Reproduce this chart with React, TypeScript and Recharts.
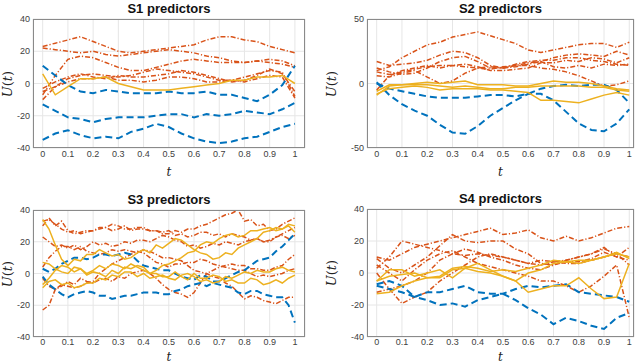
import { LineChart, Line, XAxis, YAxis, CartesianGrid } from 'recharts'

// t grids and tick values
const tGrid = [0, 0.05, 0.1, 0.15, 0.2, 0.25, 0.3, 0.35, 0.4, 0.45, 0.5, 0.55, 0.6, 0.65, 0.7, 0.75, 0.8, 0.85, 0.9, 0.95, 1]
const tFine = [0, 0.025, 0.05, 0.075, 0.1, 0.125, 0.15, 0.175, 0.2, 0.225, 0.25, 0.275, 0.3, 0.325, 0.35, 0.375, 0.4, 0.425, 0.45, 0.475, 0.5,
 0.525, 0.55, 0.575, 0.6, 0.625, 0.65, 0.675, 0.7, 0.725, 0.75, 0.775, 0.8, 0.825, 0.85, 0.875, 0.9, 0.925, 0.95, 0.975, 1]
const xTicks = [0, 0.1, 0.2, 0.3, 0.4, 0.5, 0.6, 0.7, 0.8, 0.9, 1]
const yTicks40 = [-40, -20, 0, 20, 40]
const yTicks50 = [-50, 0, 50]

// S1
const s1Blue = [
 [11, 5, -1, -5, -6, -4, -5, -6, -6, -6, -5, -6, -6, -5, -7, -7, -9, -11, -7, -1, 11],
 [-13, -17, -21, -22, -24, -22, -21, -21, -21, -20, -19, -19, -21, -19, -20, -19, -17, -18, -19, -16, -12],
 [-35, -31, -29, -32, -34, -33, -34, -30, -28, -25, -27, -31, -34, -36, -37, -36, -34, -33, -30, -27, -25],
]
const s1Orange = [
 [23, 25, 27, 29, 26, 23, 20, 19, 20, 21, 22, 23, 24, 27, 29, 29, 27, 26, 23, 21, 19],
 [22, 21, 20, 19, 20, 18, 17, 18, 19, 20, 21, 20, 19, 17, 16, 14, 13, 14, 15, 14, 11],
 [-7, 5, 15, 17, 16, 13, 10, 8, 8, 10, 12, 14, 15, 14, 13, 13, 13, 14, 13, 12, 10],
 [-10, -2, 3, 5, 6, 5, 4, 5, 7, 9, 8, 7, 6, 4, 2, 2, 4, 6, 8, 7, -8],
 [-3, 1, 4, 6, 4, 3, 5, 4, 4, 5, 6, 8, 7, 5, 3, 1, 2, 5, 9, 6, -5],
 [-5, -2, 1, 3, 3, 4, 2, 2, 1, 2, 4, 4, 3, 1, 1, 2, 1, 3, 5, 4, -9],
]
const s1Yellow = [
 [6, -7, -2, 3, 3, 4, 0, -2, -4, -4, -4, -3, -2, -1, 0, 2, 2, 4, 4, 5, 0],
]

// S2
const s2Blue = [
 [1, -9, -16, -21, -25, -32, -38, -39, -33, -25, -19, -13, -8, -8, -13, -22, -31, -36, -37, -31, -20],
 [0, -4, -6, -8, -10, -11, -11, -11, -10, -9, -9, -10, -8, -4, -2, -1, -2, -1, -1, -5, -15],
]
const s2Orange = [
 [10, 13, 20, 25, 30, 32, 36, 38, 40, 37, 34, 31, 26, 24, 26, 28, 30, 31, 31, 28, 32],
 [17, 14, 15, 16, 18, 22, 25, 24, 20, 14, 12, 13, 15, 17, 20, 22, 23, 22, 21, 25, 22],
 [12, 9, 7, 8, 12, 17, 20, 21, 17, 12, 12, 15, 17, 18, 18, 20, 20, 18, 17, 15, 14],
 [9, 7, 9, 11, 13, 14, 14, 15, 13, 10, 10, 11, 12, 16, 16, 18, 17, 20, 19, 16, 20],
 [6, 5, 8, 10, 5, 0, 2, 8, 12, 11, 13, 14, 14, 12, 11, 9, 6, 2, -2, -1, 2],
 [-5, 6, 10, 12, 14, 12, 14, 13, 12, 13, 12, 14, 16, 17, 13, 12, 14, 12, 15, 14, 15],
]
const s2Yellow = [
 [-9, -2, -1, 0, 1, 0, 1, 2, -1, -1, -1, -2, -2, 0, 2, 1, 1, 0, -2, -4, -5],
 [-8, -4, -3, -2, -3, -5, -4, -4, -4, -5, -5, -6, -7, -13, -13, -14, -15, -12, -9, -7, -9],
 [-6, -1, -1, -1, -1, -2, -3, -2, -3, -4, -4, -3, -3, -2, -2, -2, -2, -3, -3, -5, -6],
]

// S3 (read on the finer grid, these curves are jagged)
const s3Blue = [
 [3, 1, 3, 6, 8, 10, 10, 9, 10, 12, 12, 11, 12, 13, 12, 8, 5, 4, 3, 2, 2, 0, -2, -3, -4, -1, -2, -5, -5, -3, -1, 1, 2, 5, 8, 9, 10, 14, 17, 21, 25],
 [-2, -7, -10, -13, -15, -13, -12, -11, -12, -14, -14, -16, -15, -14, -14, -13, -12, -12, -12, -13, -13, -11, -10, -8, -7, -6, -8, -6, -7, -8, -9, -12, -13, -11, -11, -13, -14, -15, -15, -20, -31],
]
const s3Orange = [
 [30, 35, 30, 33, 27, 25, 26, 27, 27, 29, 29, 27, 28, 30, 27, 28, 28, 27, 27, 25, 25, 27, 26, 28, 28, 30, 31, 33, 35, 37, 38, 40, 33, 34, 30, 31, 27, 28, 31, 33, 35],
 [33, 34, 31, 28, 26, 27, 25, 26, 27, 28, 29, 31, 30, 28, 28, 29, 29, 27, 27, 26, 27, 24, 25, 23, 24, 26, 26, 24, 25, 23, 25, 24, 23, 21, 22, 20, 20, 23, 25, 27, 29],
 [23, 20, 17, 18, 16, 18, 15, 17, 20, 18, 19, 17, 18, 20, 19, 21, 21, 20, 22, 24, 23, 21, 20, 17, 18, 16, 17, 19, 18, 20, 19, 18, 20, 21, 22, 20, 21, 23, 24, 22, 24],
 [4, 10, 14, 17, 17, 15, 17, 14, 13, 12, 13, 15, 14, 15, 14, 13, 15, 14, 12, 10, 10, 9, 8, 5, 2, 1, 0, -2, -3, -6, -8, -12, -16, -14, -15, -17, -18, -19, -17, -15, -15],
 [-23, -20, -10, -8, -5, -7, -3, -5, -6, -4, -3, -5, -2, -3, 0, 1, 2, 0, -3, -7, -10, -12, -13, -15, -12, -6, 0, 2, 4, 5, 6, 5, 5, 3, 3, 2, 2, 4, 5, 9, 12],
 [-3, -8, -10, -7, -8, -9, -8, -6, -5, 0, 3, 6, 8, 10, 12, 14, 13, 10, 7, 6, 4, 6, 6, 7, 7, 9, 8, 6, 5, 4, 3, 2, 2, 0, -2, -1, -2, -1, 0, 2, 3],
]
const s3Yellow = [
 [34, 28, 18, 9, 5, 9, 8, 12, 12, 15, 13, 11, 12, 9, 10, 13, 15, 13, 18, 16, 19, 22, 21, 18, 15, 13, 12, 9, 10, 13, 12, 16, 18, 20, 22, 26, 27, 29, 28, 30, 26],
 [7, 6, 3, 1, 0, 4, 3, -1, 1, 0, -2, 2, 0, 4, 3, 5, 4, 0, 2, 5, 6, 8, 10, 13, 14, 18, 20, 19, 22, 24, 25, 23, 24, 27, 27, 28, 29, 27, 28, 31, 30],
 [-9, -5, -4, -7, -6, -9, -8, -6, -6, -3, -4, -1, -2, 1, 1, -2, 0, -3, -2, -1, -3, -4, -1, 0, -2, -5, -4, -6, -5, -2, -3, -1, 1, 0, 2, 1, 1, 3, 4, 2, 1],
 [-7, -3, 2, 5, 4, 1, 3, 0, 2, 5, 3, 6, 5, 3, 6, 4, 2, 0, 0, -2, -2, 1, -2, -4, 0, -3, -3, -1, -2, -5, -4, -6, -6, -3, -4, -7, -6, -4, -6, -3, -1],
]

// S4
const s4Blue = [
 [-7, -5, -8, -15, -12, -12, -10, -8, -12, -13, -13, -10, -8, -9, -8, -7, -12, -13, -14, -15, -18],
 [-8, -10, -12, -15, -17, -20, -19, -21, -17, -15, -13, -17, -22, -26, -32, -28, -30, -33, -35, -28, -25],
]
const s4Orange = [
 [10, 8, 12, 16, 18, 20, 22, 24, 26, 28, 24, 25, 27, 22, 20, 23, 20, 22, 25, 28, 29],
 [3, 10, 20, 18, 16, 14, 12, 11, 12, 11, 10, 8, 6, 8, 7, 8, 10, 12, 15, 12, 10],
 [9, 3, 0, 5, 10, 17, 24, 20, 19, 20, 20, 15, 12, 6, 5, 7, 7, 9, 13, 10, 16],
 [5, 0, -5, 2, 8, 12, 14, 10, 6, 4, 2, 0, -2, -5, -5, -8, -12, -8, -2, 5, -28],
 [0, -10, -19, -15, -12, -5, 0, 5, 10, 12, 10, 8, 6, 5, 7, 6, 6, 8, 10, 12, 5],
 [-12, -10, -8, -5, 0, 8, 12, 15, 13, 10, 8, 5, 3, 2, 5, 8, 10, 12, 16, 10, 8],
]
const s4Yellow = [
 [-13, -12, -8, -5, -3, -3, 2, 3, 1, 0, -2, -5, -12, -10, -8, -8, -3, -10, -16, -15, 6],
 [-5, 2, 2, -2, 0, 2, -3, 3, 6, 2, -2, -5, 0, 2, 6, 7, 6, 8, 10, 13, 9],
 [-5, -2, -1, 0, -3, -2, 3, 4, 3, 1, 2, 1, 3, 5, 8, 7, 8, 8, 10, 12, 10],
]

const BLUE = '#0072BD'
const ORANGE = '#D95319'
const YELLOW = '#EDB120'
const tickStyle = { fill: '#404040', fontSize: 9, fontFamily: 'Liberation Sans, Arial, sans-serif' }

interface PanelProps {
 title: string
 left: number
 top: number
 width: number
 height: number
 plot: { x: number; y: number; w: number; h: number }
 labelCx: number
 xLabelDy: number
 xTickGap: number
 xDomain: [number, number]
 yDomain: [number, number]
 yTicks: number[]
 grid: number[]
 blue: number[][]
 orange: number[][]
 yellow: number[][]
}

function Panel({ title, left, top, width, height, plot, labelCx, xLabelDy, xTickGap, xDomain, yDomain, yTicks, grid, blue, orange, yellow }: PanelProps) {
 const rows = grid.map((t, i) => {
 const r: Record<string, number> = { t }
 orange.forEach((s, k) => (r['o' + k] = s[i]))
 blue.forEach((s, k) => (r['b' + k] = s[i]))
 yellow.forEach((s, k) => (r['y' + k] = s[i]))
 return r
 })
 const yAxisW = 26
 const xAxisH = 14
 const margin = {
 top: plot.y,
 left: plot.x - yAxisW,
 right: width - plot.x - plot.w,
 bottom: height - plot.y - plot.h - xAxisH,
 }
 return (
 <div style={{ position: 'absolute', left, top, width, height }}>
 <LineChart width={width} height={height} data={rows} margin={margin}>
 <CartesianGrid stroke="#e6e6e6" strokeWidth={1} />
 <XAxis dataKey="t" type="number" domain={xDomain} ticks={xTicks} allowDataOverflow
 height={xAxisH} axisLine={false} tickLine={false} tickSize={0} tickMargin={xTickGap} tick={tickStyle} interval={0} />
 <YAxis type="number" domain={yDomain} ticks={yTicks} allowDataOverflow
 width={yAxisW} axisLine={false} tickLine={false} tickSize={0} tickMargin={3} tick={tickStyle} interval={0} />
 {orange.map((_, k) => (
 <Line key={'o' + k} dataKey={'o' + k} stroke={ORANGE} strokeWidth={1.5} strokeDasharray="5 2 1.2 2" dot={false} isAnimationActive={false} />
 ))}
 {blue.map((_, k) => (
 <Line key={'b' + k} dataKey={'b' + k} stroke={BLUE} strokeWidth={2} strokeDasharray="7 4" dot={false} isAnimationActive={false} />
 ))}
 {yellow.map((_, k) => (
 <Line key={'y' + k} dataKey={'y' + k} stroke={YELLOW} strokeWidth={1.5} dot={false} isAnimationActive={false} />
 ))}
 </LineChart>
 <div style={{ position: 'absolute', left: plot.x, top: plot.y, width: plot.w, height: plot.h, border: '1px solid #8a8a8a', boxSizing: 'border-box', pointerEvents: 'none' }} />
 <div style={{ position: 'absolute', left: plot.x, width: plot.w, top: plot.y - 18, textAlign: 'center', font: 'bold 13px "Liberation Sans", Arial, sans-serif', color: '#111' }}>
 {title}
 </div>
 <div style={{ position: 'absolute', left: plot.x, width: plot.w, top: plot.y + plot.h + xLabelDy, height: 10, lineHeight: '10px', textAlign: 'center', font: 'italic 12px "DejaVu Serif", serif', color: '#222' }}>
 t
 </div>
 <div style={{ position: 'absolute', left: labelCx - 20, top: plot.y + plot.h / 2 - 9, width: 40, height: 18, lineHeight: '18px', textAlign: 'center', transform: 'rotate(-90deg)', font: '13px "DejaVu Serif", serif', color: '#222', whiteSpace: 'nowrap' }}>
 <i>U</i>(<i>t</i>)
 </div>
 </div>
 )
}

export default function App() {
 return (
 <div style={{ position: 'absolute', left: 0, top: 0, width: 640, height: 363, background: '#fff' }}>
 <Panel title="S1 predictors" left={0} top={0} width={320} height={180} labelCx={9} xLabelDy={17} xTickGap={3}
 plot={{ x: 33, y: 19, w: 272, h: 129 }} xDomain={[-0.0384, 1.04]} yDomain={[-40, 40]} yTicks={yTicks40}
 grid={tGrid} blue={s1Blue} orange={s1Orange} yellow={s1Yellow} />
 <Panel title="S2 predictors" left={320} top={0} width={320} height={180} labelCx={13} xLabelDy={17} xTickGap={3}
 plot={{ x: 47, y: 19, w: 267, h: 129 }} xDomain={[-0.0384, 1.0187]} yDomain={[-50, 50]} yTicks={yTicks50}
 grid={tGrid} blue={s2Blue} orange={s2Orange} yellow={s2Yellow} />
 <Panel title="S3 predictors" left={0} top={180} width={320} height={183} labelCx={9} xLabelDy={13} xTickGap={2}
 plot={{ x: 33, y: 30, w: 272, h: 127 }} xDomain={[-0.0384, 1.04]} yDomain={[-40, 40]} yTicks={yTicks40}
 grid={tFine} blue={s3Blue} orange={s3Orange} yellow={s3Yellow} />
 <Panel title="S4 predictors" left={320} top={180} width={320} height={183} labelCx={13} xLabelDy={13} xTickGap={2}
 plot={{ x: 47, y: 29, w: 267, h: 128 }} xDomain={[-0.0384, 1.0187]} yDomain={[-40, 40]} yTicks={yTicks40}
 grid={tGrid} blue={s4Blue} orange={s4Orange} yellow={s4Yellow} />
 </div>
 )
}
